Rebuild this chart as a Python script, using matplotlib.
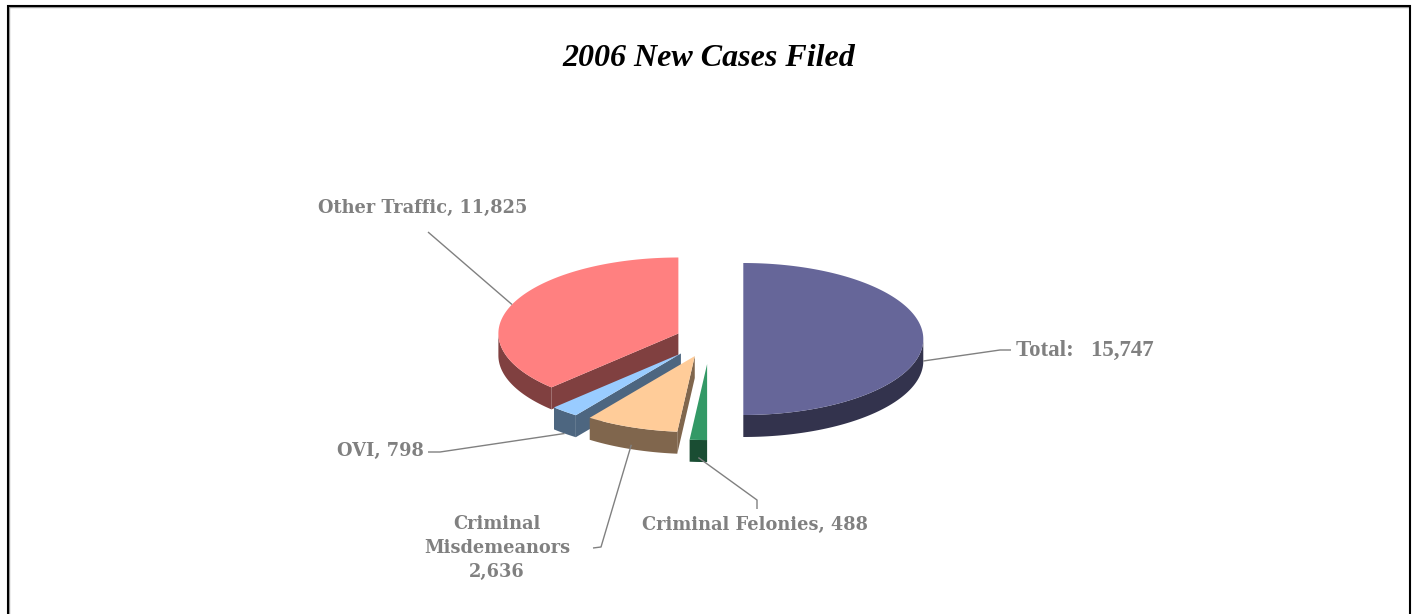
import numpy as np
import matplotlib
matplotlib.use("Agg")
import matplotlib.pyplot as plt
from matplotlib.patches import Polygon

# ---- data ----
title = "2006 New Cases Filed"
categories = ["Total:", "Other Traffic", "OVI", "Criminal Misdemeanors", "Criminal Felonies"]
values = [15747, 11825, 798, 2636, 488]
label_texts = ["Total:   15,747", "Other Traffic, 11,825", "OVI, 798",
               "Criminal\nMisdemeanors\n2,636", "Criminal Felonies, 488"]
top_colors = ["#666699", "#FF8080", "#99CCFF", "#FFCC99", "#339966"]
side_colors = ["#33334D", "#804040", "#4D6680", "#80664D", "#1A4D33"]
explode = [0.185, 0.19, 0.25, 0.24, 0.33]

# ---- layout (pixel space) ----
W, H = 1418, 614
fig = plt.figure(figsize=(W / 100, H / 100), dpi=100)
ax = fig.add_axes([0, 0, 1, 1])
ax.set_xlim(0, W)
ax.set_ylim(H, 0)
ax.axis("off")

cx0, cy0 = 710, 339
rx, ry, depth = 180, 76, 22

vals = np.array(values, dtype=float)
frac = vals / vals.sum()
starts = 270 + np.concatenate([[0], np.cumsum(frac)[:-1]]) * 360
ends = starts + frac * 360

def pt(cx, cy, t, dz=0):
    r = np.radians(t)
    return cx + rx * np.cos(r), cy - ry * np.sin(r) + dz

slices = []
for i in range(len(vals)):
    a0, a1 = starts[i], ends[i]
    m = np.radians((a0 + a1) / 2)
    cx = cx0 + explode[i] * rx * np.cos(m)
    cy = cy0 - explode[i] * ry * np.sin(m)
    slices.append((cy, i, a0, a1, cx))

for cy, i, a0, a1, cx in sorted(slices):
    tc, sc = top_colors[i], side_colors[i]
    # radial faces
    for ang, vis in ((a0, np.cos(np.radians(a0)) > 1e-6), (a1, np.cos(np.radians(a1)) < -1e-6)):
        if vis:
            px, py = pt(cx, cy, ang)
            poly = [(cx, cy), (px, py), (px, py + depth), (cx, cy + depth)]
            ax.add_patch(Polygon(poly, closed=True, facecolor=sc, edgecolor="none", zorder=2))
    # curved outer wall (front half)
    ts = np.linspace(a0, a1, 200)
    front = np.sin(np.radians(ts)) < 0
    if front.any():
        tf = ts[front]
        upper = [pt(cx, cy, t) for t in tf]
        lower = [pt(cx, cy, t, depth) for t in tf[::-1]]
        ax.add_patch(Polygon(upper + lower, closed=True, facecolor=sc, edgecolor="none", zorder=2))
    # top face
    arc = [pt(cx, cy, t) for t in ts]
    ax.add_patch(Polygon([(cx, cy)] + arc, closed=True, facecolor=tc, edgecolor="none", zorder=3))

geo = {i: (cx, cy, a0, a1) for cy, i, a0, a1, cx in slices}

# ---- labels and leader lines ----
lab_color = "#808080"
font_slab = dict(family=["DejaVu Serif"], fontweight="bold", fontsize=12.8, color=lab_color)
font_times = dict(family=["Liberation Serif", "DejaVu Serif"], fontweight="bold", fontsize=16.5, color=lab_color)

def anchor(i):
    cx, cy, a0, a1 = geo[i]
    m = (a0 + a1) / 2
    x, y = pt(cx, cy, m)
    if np.sin(np.radians(m)) <= 1e-6:
        y += depth * (0.8 if abs(np.sin(np.radians(m))) > 0.9 else 1.0)
    return x, y

# label positions / elbows: (text x, text y, ha, leader path points after anchor)
label_layout = {
    0: (1016, 350, "left", [(1000, 350), (1011, 350)]),
    1: (423, 208, "center", [(428, 232)]),
    2: (424, 451, "right", [(440, 452), (428, 452)]),
    3: (497, 548, "center", [(601, 547), (593, 548)]),
    4: (755, 525, "center", [(757, 500), (757, 509)]),
}
for i, (tx, ty, ha, path) in label_layout.items():
    ax_, ay_ = anchor(i)
    xs = [ax_] + [p[0] for p in path]
    ys = [ay_] + [p[1] for p in path]
    ax.plot(xs, ys, color=lab_color, lw=1.0, zorder=4, solid_capstyle="butt")
    f = font_times if i == 0 else font_slab
    ax.text(tx, ty, label_texts[i], ha=ha, va="center", linespacing=1.4, zorder=5, **f)

# ---- title ----
ax.text(709, 58, title, ha="center", va="center", fontsize=23, fontweight="bold",
        fontstyle="italic", family=["Liberation Serif", "DejaVu Serif"], color="black")

# ---- frame ----
ax.plot([9.3, 9.3, 1408.3], [H + 5, 6.8, 6.8], color="#A0A0A0", lw=1.0, zorder=6)
ax.plot([8, 8, 1410, 1410], [H + 5, 5.5, 5.5, H + 5], color="black", lw=1.5, zorder=7,
        solid_joinstyle="miter")

fig.savefig("out.png", dpi=100, facecolor="white")
